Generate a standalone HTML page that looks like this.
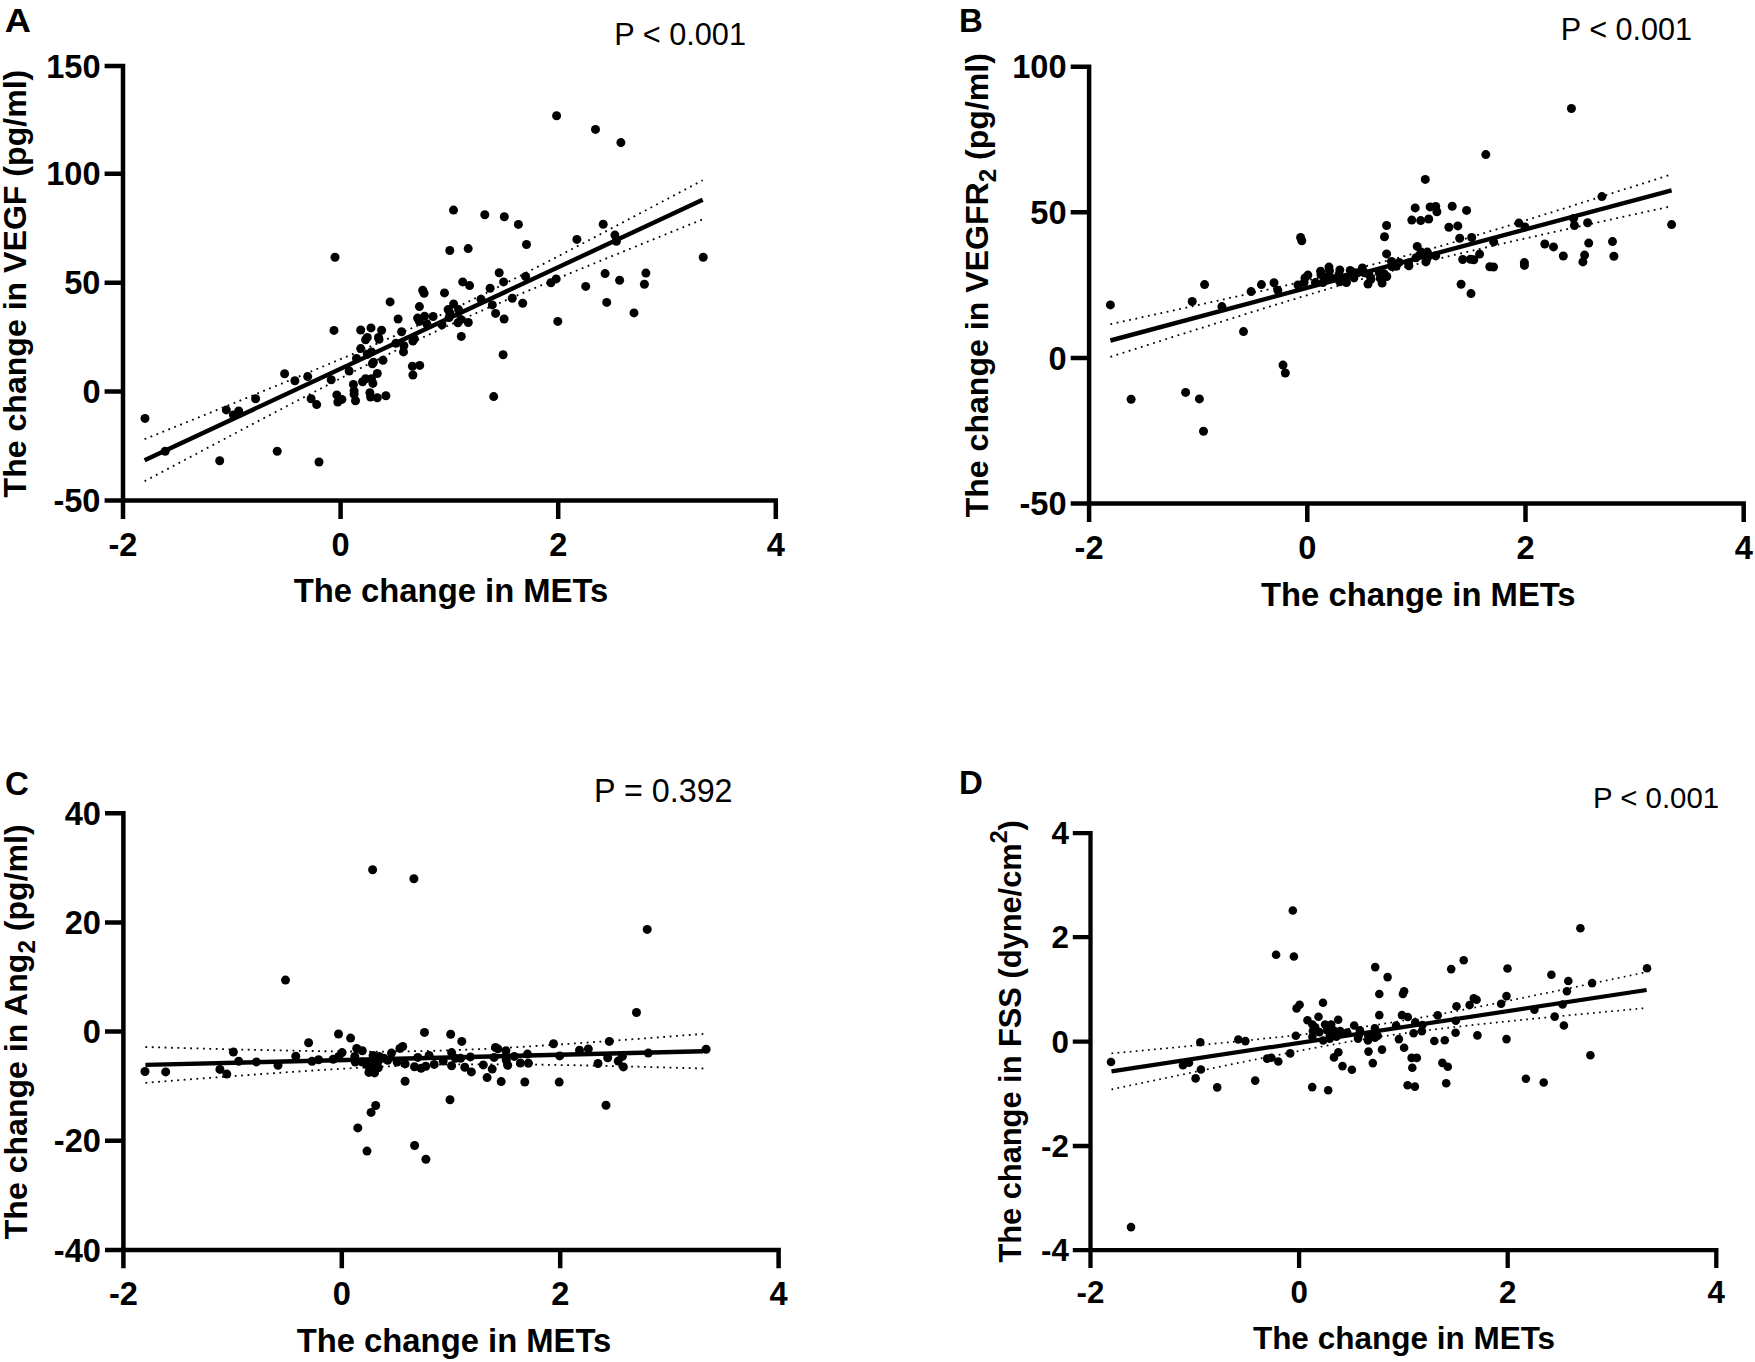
<!DOCTYPE html>
<html lang="en"><head><meta charset="utf-8"><title>Figure</title>
<style>
html,body{margin:0;padding:0;background:#fff;}
body{width:1755px;height:1362px;overflow:hidden;}
svg{display:block;}
text{font-family:"Liberation Sans", sans-serif;fill:#000;}
</style></head><body>
<svg width="1755" height="1362" viewBox="0 0 1755 1362">
<rect width="1755" height="1362" fill="#fff"/>
<g id="panelA">
<text x="4.7" y="32" font-size="33" font-weight="700" textLength="26.2" lengthAdjust="spacingAndGlyphs">A</text>
<path d="M123 63.8V518.9M104.6 500.5H778M340.6 500.5V518.9M558.2 500.5V518.9M775.8 500.5V518.9M104.6 391.6H123M104.6 282.7H123M104.6 173.8H123M104.6 66.1H123" fill="none" stroke="#000" stroke-width="4.5"/>
<text x="123" y="555.5" font-size="32.6" font-weight="700" text-anchor="middle">-2</text>
<text x="340.6" y="555.5" font-size="32.6" font-weight="700" text-anchor="middle">0</text>
<text x="558.2" y="555.5" font-size="32.6" font-weight="700" text-anchor="middle">2</text>
<text x="775.8" y="555.5" font-size="32.6" font-weight="700" text-anchor="middle">4</text>
<text x="100.5" y="512.1" font-size="32.6" font-weight="700" text-anchor="end">-50</text>
<text x="100.5" y="403.2" font-size="32.6" font-weight="700" text-anchor="end">0</text>
<text x="100.5" y="294.3" font-size="32.6" font-weight="700" text-anchor="end">50</text>
<text x="100.5" y="185.4" font-size="32.6" font-weight="700" text-anchor="end">100</text>
<text x="100.5" y="77.7" font-size="32.6" font-weight="700" text-anchor="end">150</text>
<text x="451" y="601.7" font-size="32.8" font-weight="700" text-anchor="middle">The change in METs</text>
<text transform="translate(26 283.6) rotate(-90)" font-size="32.1" font-weight="700" text-anchor="middle">The change in VEGF (pg/ml)</text>
<text x="614.3" y="45.2" font-size="30.7">P &lt; 0.001</text>
<polyline points="144.6,439.2 153.9,435.4 163.2,431.7 172.5,427.9 181.8,424.2 191.1,420.4 200.4,416.7 209.7,412.9 219,409.1 228.3,405.4 237.6,401.6 246.9,397.8 256.2,394 265.5,390.2 274.8,386.4 284.1,382.6 293.4,378.8 302.7,374.9 312,371.1 321.3,367.2 330.6,363.3 339.9,359.4 349.2,355.5 358.5,351.6 367.8,347.6 377.1,343.6 386.4,339.5 395.7,335.4 405,331.3 414.3,327.1 423.6,322.9 433,318.6 442.3,314.2 451.6,309.8 460.9,305.3 470.2,300.8 479.5,296.2 488.8,291.6 498.1,287 507.4,282.3 516.7,277.6 526,272.8 535.3,268.1 544.6,263.3 553.9,258.5 563.2,253.6 572.5,248.8 581.8,243.9 591.1,239.1 600.4,234.2 609.7,229.3 619,224.4 628.3,219.5 637.6,214.6 646.9,209.7 656.2,204.8 665.5,199.9 674.8,195 684.1,190.1 693.4,185.1 702.7,180.2" fill="none" stroke="#000" stroke-width="1.8" stroke-dasharray="1.8 4.6"/>
<polyline points="144.6,481.2 153.9,476.3 163.2,471.4 172.5,466.4 181.8,461.5 191.1,456.6 200.4,451.7 209.7,446.7 219,441.8 228.3,436.9 237.6,432 246.9,427.1 256.2,422.2 265.5,417.3 274.8,412.5 284.1,407.6 293.4,402.7 302.7,397.9 312,393.1 321.3,388.3 330.6,383.5 339.9,378.7 349.2,373.9 358.5,369.2 367.8,364.5 377.1,359.8 386.4,355.2 395.7,350.6 405,346.1 414.3,341.6 423.6,337.1 433,332.8 442.3,328.4 451.6,324.2 460.9,320 470.2,315.8 479.5,311.7 488.8,307.6 498.1,303.6 507.4,299.6 516.7,295.6 526,291.7 535.3,287.8 544.6,283.9 553.9,280 563.2,276.2 572.5,272.3 581.8,268.5 591.1,264.7 600.4,260.9 609.7,257.1 619,253.3 628.3,249.5 637.6,245.7 646.9,241.9 656.2,238.2 665.5,234.4 674.8,230.6 684.1,226.9 693.4,223.1 702.7,219.4" fill="none" stroke="#000" stroke-width="1.8" stroke-dasharray="1.8 4.6"/>
<line x1="144.6" y1="460.2" x2="702.7" y2="199.8" stroke="#000" stroke-width="4.4"/>
<g fill="#000"><circle cx="145" cy="418.4" r="4.5"/><circle cx="165.2" cy="451.3" r="4.5"/><circle cx="219.7" cy="460.7" r="4.5"/><circle cx="277.2" cy="451.3" r="4.5"/><circle cx="319" cy="462" r="4.5"/><circle cx="226.3" cy="409.9" r="4.5"/><circle cx="238.7" cy="410.9" r="4.5"/><circle cx="233.4" cy="415" r="4.5"/><circle cx="255.6" cy="398.8" r="4.5"/><circle cx="284.6" cy="373.8" r="4.5"/><circle cx="294.9" cy="380.8" r="4.5"/><circle cx="307.7" cy="376.6" r="4.5"/><circle cx="331.2" cy="379.8" r="4.5"/><circle cx="311.1" cy="398.8" r="4.5"/><circle cx="316.7" cy="404.6" r="4.5"/><circle cx="336.8" cy="394.9" r="4.5"/><circle cx="337.8" cy="402" r="4.5"/><circle cx="335" cy="257.3" r="4.5"/><circle cx="334" cy="330.4" r="4.5"/><circle cx="390.1" cy="301.9" r="4.5"/><circle cx="422.7" cy="290.2" r="4.5"/><circle cx="424.1" cy="293.2" r="4.5"/><circle cx="444.5" cy="292.9" r="4.5"/><circle cx="462.7" cy="281.9" r="4.5"/><circle cx="469.6" cy="285.6" r="4.5"/><circle cx="490.1" cy="288.3" r="4.5"/><circle cx="503.6" cy="281.9" r="4.5"/><circle cx="419.4" cy="306.6" r="4.5"/><circle cx="453.6" cy="304" r="4.5"/><circle cx="448.1" cy="309.6" r="4.5"/><circle cx="458.5" cy="309.6" r="4.5"/><circle cx="450" cy="313.4" r="4.5"/><circle cx="481" cy="299.3" r="4.5"/><circle cx="492.3" cy="304.9" r="4.5"/><circle cx="495.6" cy="313.4" r="4.5"/><circle cx="504.1" cy="319" r="4.5"/><circle cx="398.1" cy="319" r="4.5"/><circle cx="417.6" cy="318.1" r="4.5"/><circle cx="424.6" cy="316.2" r="4.5"/><circle cx="419.4" cy="321.4" r="4.5"/><circle cx="433.1" cy="316.5" r="4.5"/><circle cx="427" cy="324.2" r="4.5"/><circle cx="442" cy="324.7" r="4.5"/><circle cx="449.1" cy="317.6" r="4.5"/><circle cx="460.8" cy="319.5" r="4.5"/><circle cx="458" cy="322.8" r="4.5"/><circle cx="468.3" cy="322.5" r="4.5"/><circle cx="461.3" cy="336.4" r="4.5"/><circle cx="360.7" cy="330" r="4.5"/><circle cx="371" cy="327.9" r="4.5"/><circle cx="381.6" cy="330.3" r="4.5"/><circle cx="401.6" cy="331.7" r="4.5"/><circle cx="367.3" cy="337.4" r="4.5"/><circle cx="365.6" cy="339.7" r="4.5"/><circle cx="378.5" cy="337.4" r="4.5"/><circle cx="379" cy="339.2" r="4.5"/><circle cx="395.9" cy="343.2" r="4.5"/><circle cx="414.3" cy="338.8" r="4.5"/><circle cx="412.9" cy="341.1" r="4.5"/><circle cx="403.9" cy="345.8" r="4.5"/><circle cx="403.5" cy="351.9" r="4.5"/><circle cx="360.7" cy="348.6" r="4.5"/><circle cx="371.5" cy="351.9" r="4.5"/><circle cx="367.3" cy="354.3" r="4.5"/><circle cx="356.5" cy="358.5" r="4.5"/><circle cx="373.4" cy="362.3" r="4.5"/><circle cx="372.4" cy="363.7" r="4.5"/><circle cx="383" cy="360.2" r="4.5"/><circle cx="412.4" cy="366.3" r="4.5"/><circle cx="419.7" cy="365.4" r="4.5"/><circle cx="412.9" cy="375" r="4.5"/><circle cx="349.2" cy="371" r="4.5"/><circle cx="377.3" cy="373.5" r="4.5"/><circle cx="365.6" cy="378.7" r="4.5"/><circle cx="362.6" cy="381.7" r="4.5"/><circle cx="371.5" cy="378.7" r="4.5"/><circle cx="372.9" cy="383.4" r="4.5"/><circle cx="353.4" cy="384.4" r="4.5"/><circle cx="354.1" cy="390.9" r="4.5"/><circle cx="354.1" cy="394.2" r="4.5"/><circle cx="355.5" cy="400.8" r="4.5"/><circle cx="369.9" cy="392.8" r="4.5"/><circle cx="370.6" cy="397.1" r="4.5"/><circle cx="377.3" cy="397.8" r="4.5"/><circle cx="385.9" cy="395.8" r="4.5"/><circle cx="341.9" cy="399.4" r="4.5"/><circle cx="493.7" cy="396.6" r="4.5"/><circle cx="503.1" cy="354.7" r="4.5"/><circle cx="512.3" cy="298.3" r="4.5"/><circle cx="522.7" cy="303.3" r="4.5"/><circle cx="557.8" cy="321.4" r="4.5"/><circle cx="585.7" cy="286.4" r="4.5"/><circle cx="606.7" cy="302.4" r="4.5"/><circle cx="634" cy="312.9" r="4.5"/><circle cx="644.4" cy="284.2" r="4.5"/><circle cx="556.6" cy="115.7" r="4.5"/><circle cx="595.5" cy="129.4" r="4.5"/><circle cx="620.9" cy="142.6" r="4.5"/><circle cx="453.5" cy="210.1" r="4.5"/><circle cx="484.8" cy="214.8" r="4.5"/><circle cx="504.3" cy="216.7" r="4.5"/><circle cx="518.4" cy="224.4" r="4.5"/><circle cx="449.8" cy="250.5" r="4.5"/><circle cx="468.2" cy="248.6" r="4.5"/><circle cx="526.5" cy="244.5" r="4.5"/><circle cx="576.9" cy="239.4" r="4.5"/><circle cx="603.2" cy="224.2" r="4.5"/><circle cx="614.9" cy="235.1" r="4.5"/><circle cx="616.4" cy="241.3" r="4.5"/><circle cx="703.2" cy="257.3" r="4.5"/><circle cx="499.2" cy="272.7" r="4.5"/><circle cx="525.6" cy="276.5" r="4.5"/><circle cx="605.1" cy="273.6" r="4.5"/><circle cx="645.9" cy="273.1" r="4.5"/><circle cx="556.2" cy="278.9" r="4.5"/><circle cx="619.6" cy="280.2" r="4.5"/><circle cx="550.9" cy="282.7" r="4.5"/></g>
</g>
<g id="panelB">
<text x="959" y="32" font-size="33" font-weight="700">B</text>
<path d="M1089.1 64.5V521.9M1070.7 503.5H1745.9M1307.3 503.5V521.9M1525.5 503.5V521.9M1743.7 503.5V521.9M1070.7 357.9H1089.1M1070.7 212.3H1089.1M1070.7 66.7H1089.1" fill="none" stroke="#000" stroke-width="4.5"/>
<text x="1089.1" y="558.5" font-size="32.6" font-weight="700" text-anchor="middle">-2</text>
<text x="1307.3" y="558.5" font-size="32.6" font-weight="700" text-anchor="middle">0</text>
<text x="1525.5" y="558.5" font-size="32.6" font-weight="700" text-anchor="middle">2</text>
<text x="1743.7" y="558.5" font-size="32.6" font-weight="700" text-anchor="middle">4</text>
<text x="1066.6" y="515.1" font-size="32.6" font-weight="700" text-anchor="end">-50</text>
<text x="1066.6" y="369.5" font-size="32.6" font-weight="700" text-anchor="end">0</text>
<text x="1066.6" y="223.9" font-size="32.6" font-weight="700" text-anchor="end">50</text>
<text x="1066.6" y="78.3" font-size="32.6" font-weight="700" text-anchor="end">100</text>
<text x="1418.3" y="606.4" font-size="32.8" font-weight="700" text-anchor="middle">The change in METs</text>
<text transform="translate(988 285.2) rotate(-90)" font-size="32.1" font-weight="700" text-anchor="middle">The change in VEGFR<tspan dy="8.2" font-size="24.1">2</tspan><tspan dy="-8.2"> </tspan>(pg/ml)</text>
<text x="1560.8" y="39.6" font-size="30.6">P &lt; 0.001</text>
<polyline points="1110.4,324.2 1119.8,322.1 1129.1,320.1 1138.5,318.1 1147.8,316 1157.2,314 1166.5,312 1175.9,309.9 1185.2,307.9 1194.6,305.8 1203.9,303.7 1213.3,301.7 1222.6,299.6 1232,297.5 1241.3,295.5 1250.7,293.4 1260.1,291.3 1269.4,289.2 1278.8,287 1288.1,284.9 1297.5,282.8 1306.8,280.6 1316.2,278.4 1325.5,276.2 1334.9,274 1344.2,271.7 1353.6,269.4 1362.9,267 1372.3,264.7 1381.6,262.3 1391,259.8 1400.4,257.3 1409.7,254.7 1419.1,252.1 1428.4,249.5 1437.8,246.8 1447.1,244.1 1456.5,241.4 1465.8,238.6 1475.2,235.8 1484.5,233 1493.9,230.1 1503.2,227.3 1512.6,224.4 1521.9,221.5 1531.3,218.6 1540.7,215.7 1550,212.8 1559.4,209.9 1568.7,206.9 1578.1,204 1587.4,201 1596.8,198.1 1606.1,195.1 1615.5,192.2 1624.8,189.2 1634.2,186.3 1643.5,183.3 1652.9,180.3 1662.2,177.3 1671.6,174.4" fill="none" stroke="#000" stroke-width="1.8" stroke-dasharray="1.8 4.6"/>
<polyline points="1110.4,356.8 1119.8,353.9 1129.1,350.9 1138.5,347.9 1147.8,344.9 1157.2,342 1166.5,339 1175.9,336 1185.2,333.1 1194.6,330.1 1203.9,327.2 1213.3,324.2 1222.6,321.3 1232,318.4 1241.3,315.5 1250.7,312.5 1260.1,309.6 1269.4,306.7 1278.8,303.8 1288.1,301 1297.5,298.1 1306.8,295.3 1316.2,292.5 1325.5,289.7 1334.9,286.9 1344.2,284.1 1353.6,281.4 1362.9,278.8 1372.3,276.1 1381.6,273.5 1391,271 1400.4,268.5 1409.7,266 1419.1,263.6 1428.4,261.3 1437.8,258.9 1447.1,256.6 1456.5,254.4 1465.8,252.2 1475.2,249.9 1484.5,247.8 1493.9,245.6 1503.2,243.4 1512.6,241.3 1521.9,239.2 1531.3,237.1 1540.7,235 1550,232.9 1559.4,230.8 1568.7,228.7 1578.1,226.7 1587.4,224.6 1596.8,222.6 1606.1,220.5 1615.5,218.5 1624.8,216.4 1634.2,214.4 1643.5,212.3 1652.9,210.3 1662.2,208.3 1671.6,206.2" fill="none" stroke="#000" stroke-width="1.8" stroke-dasharray="1.8 4.6"/>
<line x1="1110.4" y1="340.5" x2="1671.6" y2="190.3" stroke="#000" stroke-width="4.4"/>
<g fill="#000"><circle cx="1110.4" cy="304.9" r="4.5"/><circle cx="1131.1" cy="399.3" r="4.5"/><circle cx="1185.6" cy="392.4" r="4.5"/><circle cx="1199.4" cy="398.9" r="4.5"/><circle cx="1203.5" cy="431.3" r="4.5"/><circle cx="1192.2" cy="301.5" r="4.5"/><circle cx="1204.6" cy="284.6" r="4.5"/><circle cx="1221.9" cy="306.6" r="4.5"/><circle cx="1243.5" cy="331.6" r="4.5"/><circle cx="1251.1" cy="291.6" r="4.5"/><circle cx="1261.4" cy="284.6" r="4.5"/><circle cx="1274" cy="282.7" r="4.5"/><circle cx="1277.8" cy="290.3" r="4.5"/><circle cx="1283" cy="365.1" r="4.5"/><circle cx="1285.3" cy="373" r="4.5"/><circle cx="1300.6" cy="237.5" r="4.5"/><circle cx="1301.8" cy="240.8" r="4.5"/><circle cx="1386.6" cy="225.5" r="4.5"/><circle cx="1384.5" cy="236.7" r="4.5"/><circle cx="1386.6" cy="253.9" r="4.5"/><circle cx="1415.2" cy="207.9" r="4.5"/><circle cx="1411.8" cy="220.1" r="4.5"/><circle cx="1420.7" cy="220.6" r="4.5"/><circle cx="1428.7" cy="219" r="4.5"/><circle cx="1430.1" cy="206.9" r="4.5"/><circle cx="1435.7" cy="206.5" r="4.5"/><circle cx="1436.9" cy="211.8" r="4.5"/><circle cx="1452.2" cy="206.2" r="4.5"/><circle cx="1448.9" cy="227.3" r="4.5"/><circle cx="1417.2" cy="246.4" r="4.5"/><circle cx="1421.2" cy="252.1" r="4.5"/><circle cx="1427.3" cy="252.1" r="4.5"/><circle cx="1416" cy="257.7" r="4.5"/><circle cx="1424.4" cy="255.8" r="4.5"/><circle cx="1429.1" cy="255.8" r="4.5"/><circle cx="1435.7" cy="255.8" r="4.5"/><circle cx="1425.9" cy="261.9" r="4.5"/><circle cx="1408.5" cy="262.9" r="4.5"/><circle cx="1408.9" cy="265.7" r="4.5"/><circle cx="1391.5" cy="261.5" r="4.5"/><circle cx="1399.1" cy="262.4" r="4.5"/><circle cx="1392" cy="266.6" r="4.5"/><circle cx="1396.2" cy="266.2" r="4.5"/><circle cx="1298" cy="285" r="4.5"/><circle cx="1305" cy="277.9" r="4.5"/><circle cx="1307.9" cy="275.1" r="4.5"/><circle cx="1304.1" cy="282.6" r="4.5"/><circle cx="1315.4" cy="282.6" r="4.5"/><circle cx="1320.6" cy="271.3" r="4.5"/><circle cx="1321" cy="274.6" r="4.5"/><circle cx="1329" cy="267.1" r="4.5"/><circle cx="1329.5" cy="270.9" r="4.5"/><circle cx="1325.7" cy="277.4" r="4.5"/><circle cx="1322.9" cy="282.6" r="4.5"/><circle cx="1332.3" cy="278.4" r="4.5"/><circle cx="1339.8" cy="269.9" r="4.5"/><circle cx="1338.9" cy="274.6" r="4.5"/><circle cx="1339.8" cy="281.7" r="4.5"/><circle cx="1346.4" cy="282.6" r="4.5"/><circle cx="1345.5" cy="277.4" r="4.5"/><circle cx="1350.2" cy="270.4" r="4.5"/><circle cx="1351.1" cy="275.1" r="4.5"/><circle cx="1353.9" cy="277.9" r="4.5"/><circle cx="1357.7" cy="272.7" r="4.5"/><circle cx="1362.4" cy="268" r="4.5"/><circle cx="1364.3" cy="272.7" r="4.5"/><circle cx="1369" cy="274.6" r="4.5"/><circle cx="1370.9" cy="279.3" r="4.5"/><circle cx="1368" cy="284" r="4.5"/><circle cx="1379.3" cy="272.7" r="4.5"/><circle cx="1380.3" cy="278.4" r="4.5"/><circle cx="1386.8" cy="276.5" r="4.5"/><circle cx="1382.1" cy="283.1" r="4.5"/><circle cx="1384" cy="273.7" r="4.5"/><circle cx="1466.6" cy="210.4" r="4.5"/><circle cx="1457.8" cy="225.9" r="4.5"/><circle cx="1459.7" cy="238.2" r="4.5"/><circle cx="1471.7" cy="237.5" r="4.5"/><circle cx="1493.7" cy="241.9" r="4.5"/><circle cx="1518.9" cy="223.1" r="4.5"/><circle cx="1525" cy="226.9" r="4.5"/><circle cx="1573.6" cy="218.4" r="4.5"/><circle cx="1574.4" cy="225.5" r="4.5"/><circle cx="1587.6" cy="222.8" r="4.5"/><circle cx="1601.9" cy="196.6" r="4.5"/><circle cx="1544.8" cy="244" r="4.5"/><circle cx="1553.5" cy="246.9" r="4.5"/><circle cx="1563.3" cy="256" r="4.5"/><circle cx="1588.7" cy="243.1" r="4.5"/><circle cx="1584.6" cy="255.1" r="4.5"/><circle cx="1582.9" cy="261.9" r="4.5"/><circle cx="1612.5" cy="241.6" r="4.5"/><circle cx="1613.9" cy="256.3" r="4.5"/><circle cx="1479.6" cy="254.1" r="4.5"/><circle cx="1462.7" cy="259.5" r="4.5"/><circle cx="1470.5" cy="259.3" r="4.5"/><circle cx="1473.8" cy="259.8" r="4.5"/><circle cx="1489.8" cy="266.8" r="4.5"/><circle cx="1493.5" cy="267" r="4.5"/><circle cx="1524.4" cy="262.6" r="4.5"/><circle cx="1524.4" cy="265.4" r="4.5"/><circle cx="1461.1" cy="284.2" r="4.5"/><circle cx="1471" cy="293.6" r="4.5"/><circle cx="1571.4" cy="108.5" r="4.5"/><circle cx="1485.8" cy="154.6" r="4.5"/><circle cx="1425.3" cy="179.4" r="4.5"/><circle cx="1671.6" cy="224.6" r="4.5"/></g>
</g>
<g id="panelC">
<text x="5" y="794.5" font-size="33" font-weight="700">C</text>
<path d="M123.4 811V1268.3M105 1249.9H780.9M341.8 1249.9V1268.3M560.2 1249.9V1268.3M778.6 1249.9V1268.3M105 1140.7H123.4M105 1031.5H123.4M105 922.4H123.4M105 813.2H123.4" fill="none" stroke="#000" stroke-width="4.5"/>
<text x="123.4" y="1304.9" font-size="32.6" font-weight="700" text-anchor="middle">-2</text>
<text x="341.8" y="1304.9" font-size="32.6" font-weight="700" text-anchor="middle">0</text>
<text x="560.2" y="1304.9" font-size="32.6" font-weight="700" text-anchor="middle">2</text>
<text x="778.6" y="1304.9" font-size="32.6" font-weight="700" text-anchor="middle">4</text>
<text x="100.9" y="1261.5" font-size="32.6" font-weight="700" text-anchor="end">-40</text>
<text x="100.9" y="1152.3" font-size="32.6" font-weight="700" text-anchor="end">-20</text>
<text x="100.9" y="1043.1" font-size="32.6" font-weight="700" text-anchor="end">0</text>
<text x="100.9" y="934" font-size="32.6" font-weight="700" text-anchor="end">20</text>
<text x="100.9" y="824.8" font-size="32.6" font-weight="700" text-anchor="end">40</text>
<text x="454" y="1351.6" font-size="32.8" font-weight="700" text-anchor="middle">The change in METs</text>
<text transform="translate(27.1 1031.8) rotate(-90)" font-size="32.1" font-weight="700" text-anchor="middle">The change in Ang<tspan dy="8.2" font-size="24.1">2</tspan><tspan dy="-8.2"> </tspan>(pg/ml)</text>
<text x="594" y="802" font-size="32.3">P = 0.392</text>
<polyline points="145.4,1047 154.7,1047.3 164,1047.5 173.3,1047.8 182.6,1048 191.9,1048.3 201.2,1048.5 210.5,1048.8 219.8,1049 229.1,1049.3 238.4,1049.5 247.7,1049.7 257,1049.9 266.3,1050.1 275.6,1050.3 284.9,1050.5 294.2,1050.7 303.5,1050.9 312.8,1051 322.1,1051.2 331.4,1051.3 340.7,1051.4 350,1051.5 359.3,1051.5 368.6,1051.6 377.9,1051.6 387.2,1051.5 396.5,1051.5 405.8,1051.4 415.1,1051.2 424.4,1051 433.6,1050.8 442.9,1050.6 452.2,1050.2 461.5,1049.9 470.8,1049.5 480.1,1049.1 489.4,1048.7 498.7,1048.2 508,1047.7 517.3,1047.1 526.6,1046.6 535.9,1046 545.2,1045.4 554.5,1044.8 563.8,1044.2 573.1,1043.5 582.4,1042.9 591.7,1042.2 601,1041.6 610.3,1040.9 619.6,1040.2 628.9,1039.5 638.2,1038.9 647.5,1038.2 656.8,1037.5 666.1,1036.8 675.4,1036 684.7,1035.3 694,1034.6 703.3,1033.9" fill="none" stroke="#000" stroke-width="1.8" stroke-dasharray="1.8 4.6"/>
<polyline points="145.4,1082.8 154.7,1082.1 164,1081.4 173.3,1080.6 182.6,1079.9 191.9,1079.2 201.2,1078.5 210.5,1077.8 219.8,1077.1 229.1,1076.4 238.4,1075.7 247.7,1075.1 257,1074.4 266.3,1073.7 275.6,1073.1 284.9,1072.4 294.2,1071.8 303.5,1071.2 312.8,1070.5 322.1,1069.9 331.4,1069.4 340.7,1068.8 350,1068.3 359.3,1067.8 368.6,1067.3 377.9,1066.8 387.2,1066.4 396.5,1066 405.8,1065.6 415.1,1065.3 424.4,1065.1 433.6,1064.8 442.9,1064.6 452.2,1064.5 461.5,1064.4 470.8,1064.3 480.1,1064.3 489.4,1064.3 498.7,1064.3 508,1064.3 517.3,1064.4 526.6,1064.5 535.9,1064.6 545.2,1064.8 554.5,1064.9 563.8,1065.1 573.1,1065.2 582.4,1065.4 591.7,1065.6 601,1065.8 610.3,1066.1 619.6,1066.3 628.9,1066.5 638.2,1066.7 647.5,1067 656.8,1067.2 666.1,1067.5 675.4,1067.7 684.7,1068 694,1068.2 703.3,1068.5" fill="none" stroke="#000" stroke-width="1.8" stroke-dasharray="1.8 4.6"/>
<line x1="145.4" y1="1064.9" x2="703.3" y2="1051.2" stroke="#000" stroke-width="4.4"/>
<g fill="#000"><circle cx="372.6" cy="869.7" r="4.5"/><circle cx="413.9" cy="878.8" r="4.5"/><circle cx="285.5" cy="980.1" r="4.5"/><circle cx="145" cy="1071.5" r="4.5"/><circle cx="165.7" cy="1071.9" r="4.5"/><circle cx="219.9" cy="1069.4" r="4.5"/><circle cx="226.8" cy="1074.1" r="4.5"/><circle cx="233.4" cy="1052.1" r="4.5"/><circle cx="238.7" cy="1061.2" r="4.5"/><circle cx="256.4" cy="1061.9" r="4.5"/><circle cx="278" cy="1065.3" r="4.5"/><circle cx="295.8" cy="1056.3" r="4.5"/><circle cx="308.6" cy="1042.7" r="4.5"/><circle cx="312" cy="1061.2" r="4.5"/><circle cx="318.6" cy="1059.7" r="4.5"/><circle cx="338.5" cy="1034" r="4.5"/><circle cx="350.6" cy="1038.1" r="4.5"/><circle cx="424.5" cy="1032.4" r="4.5"/><circle cx="450.7" cy="1034.3" r="4.5"/><circle cx="461.8" cy="1041.4" r="4.5"/><circle cx="405.1" cy="1081.3" r="4.5"/><circle cx="450" cy="1099.8" r="4.5"/><circle cx="375.7" cy="1105.5" r="4.5"/><circle cx="371.1" cy="1112.4" r="4.5"/><circle cx="357.8" cy="1127.9" r="4.5"/><circle cx="333.2" cy="1059.2" r="4.5"/><circle cx="342.1" cy="1052.6" r="4.5"/><circle cx="338.8" cy="1056.4" r="4.5"/><circle cx="356.7" cy="1048.4" r="4.5"/><circle cx="362.3" cy="1050.8" r="4.5"/><circle cx="354.8" cy="1056.4" r="4.5"/><circle cx="355.3" cy="1062.1" r="4.5"/><circle cx="362.3" cy="1062.1" r="4.5"/><circle cx="373.1" cy="1055.5" r="4.5"/><circle cx="379.2" cy="1056.4" r="4.5"/><circle cx="371.2" cy="1061.1" r="4.5"/><circle cx="378.3" cy="1061.1" r="4.5"/><circle cx="367" cy="1064.9" r="4.5"/><circle cx="372.6" cy="1067.7" r="4.5"/><circle cx="378.3" cy="1067.7" r="4.5"/><circle cx="368.9" cy="1072.4" r="4.5"/><circle cx="374.5" cy="1072.9" r="4.5"/><circle cx="383.9" cy="1058.3" r="4.5"/><circle cx="387.7" cy="1060.2" r="4.5"/><circle cx="391.5" cy="1053.1" r="4.5"/><circle cx="399.9" cy="1048.4" r="4.5"/><circle cx="402.7" cy="1046.5" r="4.5"/><circle cx="397.1" cy="1062.1" r="4.5"/><circle cx="405.1" cy="1063.9" r="4.5"/><circle cx="414.5" cy="1066.8" r="4.5"/><circle cx="421.1" cy="1068.2" r="4.5"/><circle cx="425.8" cy="1066.3" r="4.5"/><circle cx="417.8" cy="1057.4" r="4.5"/><circle cx="429.1" cy="1055.5" r="4.5"/><circle cx="434.2" cy="1064.4" r="4.5"/><circle cx="443.2" cy="1061.1" r="4.5"/><circle cx="451.6" cy="1052.6" r="4.5"/><circle cx="451.6" cy="1065.8" r="4.5"/><circle cx="455.4" cy="1058.3" r="4.5"/><circle cx="460.6" cy="1058.3" r="4.5"/><circle cx="464.8" cy="1067.2" r="4.5"/><circle cx="470.4" cy="1056.9" r="4.5"/><circle cx="471.4" cy="1071.9" r="4.5"/><circle cx="636.5" cy="1012.5" r="4.5"/><circle cx="553.5" cy="1043.7" r="4.5"/><circle cx="609.3" cy="1041.4" r="4.5"/><circle cx="495.5" cy="1047.5" r="4.5"/><circle cx="497.9" cy="1048.9" r="4.5"/><circle cx="505.9" cy="1050.8" r="4.5"/><circle cx="494.1" cy="1057.4" r="4.5"/><circle cx="505.9" cy="1056.4" r="4.5"/><circle cx="506.3" cy="1060.2" r="4.5"/><circle cx="507.7" cy="1065.3" r="4.5"/><circle cx="514.3" cy="1056.4" r="4.5"/><circle cx="520.4" cy="1063" r="4.5"/><circle cx="527.5" cy="1054.1" r="4.5"/><circle cx="528.4" cy="1063.2" r="4.5"/><circle cx="559.7" cy="1055.9" r="4.5"/><circle cx="579.5" cy="1050.3" r="4.5"/><circle cx="588.3" cy="1048.9" r="4.5"/><circle cx="598" cy="1063.5" r="4.5"/><circle cx="607.7" cy="1057.8" r="4.5"/><circle cx="618.2" cy="1061.1" r="4.5"/><circle cx="622.4" cy="1056.4" r="4.5"/><circle cx="623.4" cy="1066.9" r="4.5"/><circle cx="483.3" cy="1064.9" r="4.5"/><circle cx="492.2" cy="1069.1" r="4.5"/><circle cx="487.1" cy="1077.6" r="4.5"/><circle cx="501.2" cy="1081.6" r="4.5"/><circle cx="524.8" cy="1082" r="4.5"/><circle cx="559.2" cy="1082.1" r="4.5"/><circle cx="606" cy="1105.3" r="4.5"/><circle cx="647.2" cy="929.4" r="4.5"/><circle cx="706.1" cy="1049.3" r="4.5"/><circle cx="648.3" cy="1053.1" r="4.5"/><circle cx="367" cy="1151.1" r="4.5"/><circle cx="414.6" cy="1145.5" r="4.5"/><circle cx="425.9" cy="1159.2" r="4.5"/></g>
</g>
<g id="panelD">
<text x="959" y="794.4" font-size="33" font-weight="700">D</text>
<path d="M1090.5 830.9V1267.9M1072.8 1250.2H1718.5M1299.1 1250.2V1267.9M1507.7 1250.2V1267.9M1716.3 1250.2V1267.9M1072.8 1146H1090.5M1072.8 1041.6H1090.5M1072.8 937.2H1090.5M1072.8 833.1H1090.5" fill="none" stroke="#000" stroke-width="4.3"/>
<text x="1090.5" y="1303" font-size="31.3" font-weight="700" text-anchor="middle">-2</text>
<text x="1299.1" y="1303" font-size="31.3" font-weight="700" text-anchor="middle">0</text>
<text x="1507.7" y="1303" font-size="31.3" font-weight="700" text-anchor="middle">2</text>
<text x="1716.3" y="1303" font-size="31.3" font-weight="700" text-anchor="middle">4</text>
<text x="1068.9" y="1261.3" font-size="31.3" font-weight="700" text-anchor="end">-4</text>
<text x="1068.9" y="1157.1" font-size="31.3" font-weight="700" text-anchor="end">-2</text>
<text x="1068.9" y="1052.7" font-size="31.3" font-weight="700" text-anchor="end">0</text>
<text x="1068.9" y="948.3" font-size="31.3" font-weight="700" text-anchor="end">2</text>
<text x="1068.9" y="844.2" font-size="31.3" font-weight="700" text-anchor="end">4</text>
<text x="1404" y="1348.7" font-size="31.5" font-weight="700" text-anchor="middle">The change in METs</text>
<text transform="translate(1021.3 1041.4) rotate(-90)" font-size="30.8" font-weight="700" text-anchor="middle">The change in FSS (dyne/cm<tspan dy="-13.9" font-size="23.1">2</tspan><tspan dy="13.9">)</tspan></text>
<text x="1593" y="808" font-size="29.4">P &lt; 0.001</text>
<polyline points="1111.5,1053.4 1120.4,1052.6 1129.3,1051.8 1138.3,1050.9 1147.2,1050.1 1156.1,1049.2 1165,1048.4 1173.9,1047.6 1182.8,1046.7 1191.8,1045.8 1200.7,1045 1209.6,1044.1 1218.5,1043.2 1227.4,1042.4 1236.4,1041.5 1245.3,1040.6 1254.2,1039.7 1263.1,1038.7 1272,1037.8 1280.9,1036.9 1289.9,1035.9 1298.8,1034.9 1307.7,1033.9 1316.6,1032.9 1325.5,1031.8 1334.5,1030.7 1343.4,1029.5 1352.3,1028.3 1361.2,1027.1 1370.1,1025.8 1379,1024.5 1388,1023.1 1396.9,1021.7 1405.8,1020.2 1414.7,1018.7 1423.6,1017.1 1432.6,1015.5 1441.5,1013.9 1450.4,1012.2 1459.3,1010.5 1468.2,1008.8 1477.2,1007 1486.1,1005.3 1495,1003.5 1503.9,1001.7 1512.8,999.9 1521.7,998.1 1530.7,996.2 1539.6,994.4 1548.5,992.6 1557.4,990.7 1566.3,988.9 1575.3,987 1584.2,985.1 1593.1,983.3 1602,981.4 1610.9,979.5 1619.8,977.7 1628.8,975.8 1637.7,973.9 1646.6,972" fill="none" stroke="#000" stroke-width="1.7" stroke-dasharray="1.7 4.4"/>
<polyline points="1111.5,1089.4 1120.4,1087.5 1129.3,1085.6 1138.3,1083.7 1147.2,1081.9 1156.1,1080 1165,1078.1 1173.9,1076.3 1182.8,1074.4 1191.8,1072.5 1200.7,1070.7 1209.6,1068.8 1218.5,1067 1227.4,1065.2 1236.4,1063.3 1245.3,1061.5 1254.2,1059.7 1263.1,1057.9 1272,1056.1 1280.9,1054.4 1289.9,1052.6 1298.8,1050.9 1307.7,1049.2 1316.6,1047.5 1325.5,1045.9 1334.5,1044.3 1343.4,1042.7 1352.3,1041.2 1361.2,1039.7 1370.1,1038.3 1379,1036.9 1388,1035.6 1396.9,1034.3 1405.8,1033.1 1414.7,1031.9 1423.6,1030.7 1432.6,1029.6 1441.5,1028.6 1450.4,1027.5 1459.3,1026.5 1468.2,1025.5 1477.2,1024.5 1486.1,1023.6 1495,1022.7 1503.9,1021.7 1512.8,1020.8 1521.7,1019.9 1530.7,1019 1539.6,1018.2 1548.5,1017.3 1557.4,1016.4 1566.3,1015.6 1575.3,1014.7 1584.2,1013.9 1593.1,1013 1602,1012.2 1610.9,1011.3 1619.8,1010.5 1628.8,1009.6 1637.7,1008.8 1646.6,1008" fill="none" stroke="#000" stroke-width="1.7" stroke-dasharray="1.7 4.4"/>
<line x1="1111.5" y1="1071.4" x2="1646.6" y2="990" stroke="#000" stroke-width="4.2"/>
<g fill="#000"><circle cx="1111" cy="1062" r="4.3"/><circle cx="1183" cy="1065.2" r="4.3"/><circle cx="1189" cy="1062.8" r="4.3"/><circle cx="1200.3" cy="1042.3" r="4.3"/><circle cx="1200.9" cy="1069.5" r="4.3"/><circle cx="1195.6" cy="1078.4" r="4.3"/><circle cx="1217.2" cy="1087.4" r="4.3"/><circle cx="1238.3" cy="1039.5" r="4.3"/><circle cx="1245.4" cy="1041.1" r="4.3"/><circle cx="1255.2" cy="1080.6" r="4.3"/><circle cx="1267.1" cy="1058.6" r="4.3"/><circle cx="1271.4" cy="1057.7" r="4.3"/><circle cx="1278.3" cy="1061.5" r="4.3"/><circle cx="1290.2" cy="1053.4" r="4.3"/><circle cx="1295.8" cy="1035.7" r="4.3"/><circle cx="1292.8" cy="910.5" r="4.3"/><circle cx="1276.1" cy="954.8" r="4.3"/><circle cx="1293.9" cy="956.5" r="4.3"/><circle cx="1296.6" cy="1008.4" r="4.3"/><circle cx="1299.6" cy="1004.7" r="4.3"/><circle cx="1375.2" cy="967.1" r="4.3"/><circle cx="1323" cy="1002.7" r="4.3"/><circle cx="1387.6" cy="977.1" r="4.3"/><circle cx="1379.3" cy="994" r="4.3"/><circle cx="1404.1" cy="991.2" r="4.3"/><circle cx="1402.9" cy="994" r="4.3"/><circle cx="1379.3" cy="1015.1" r="4.3"/><circle cx="1456.5" cy="1006.2" r="4.3"/><circle cx="1402" cy="1015.1" r="4.3"/><circle cx="1407.8" cy="1017" r="4.3"/><circle cx="1437.7" cy="1015.4" r="4.3"/><circle cx="1415.3" cy="1022.2" r="4.3"/><circle cx="1422.4" cy="1025" r="4.3"/><circle cx="1421.9" cy="1031.1" r="4.3"/><circle cx="1413.6" cy="1033.2" r="4.3"/><circle cx="1396.1" cy="1025.5" r="4.3"/><circle cx="1398.9" cy="1039.1" r="4.3"/><circle cx="1404.1" cy="1047.8" r="4.3"/><circle cx="1455.6" cy="1032.8" r="4.3"/><circle cx="1455.8" cy="1020.8" r="4.3"/><circle cx="1434.3" cy="1041" r="4.3"/><circle cx="1444.8" cy="1040.3" r="4.3"/><circle cx="1411.6" cy="1057.9" r="4.3"/><circle cx="1416.8" cy="1057.9" r="4.3"/><circle cx="1412.3" cy="1067.8" r="4.3"/><circle cx="1442.4" cy="1062.9" r="4.3"/><circle cx="1447.8" cy="1066.8" r="4.3"/><circle cx="1446.2" cy="1083.3" r="4.3"/><circle cx="1407.6" cy="1085.2" r="4.3"/><circle cx="1414.9" cy="1086.6" r="4.3"/><circle cx="1312.2" cy="1087.1" r="4.3"/><circle cx="1328.2" cy="1090.3" r="4.3"/><circle cx="1334" cy="1057.4" r="4.3"/><circle cx="1338.4" cy="1052.3" r="4.3"/><circle cx="1342.5" cy="1066.1" r="4.3"/><circle cx="1351.9" cy="1069.7" r="4.3"/><circle cx="1368.5" cy="1051.6" r="4.3"/><circle cx="1382" cy="1049.6" r="4.3"/><circle cx="1372.8" cy="1063.1" r="4.3"/><circle cx="1307.5" cy="1020.3" r="4.3"/><circle cx="1318.5" cy="1016.7" r="4.3"/><circle cx="1312.4" cy="1024.5" r="4.3"/><circle cx="1315.2" cy="1027.4" r="4.3"/><circle cx="1312.9" cy="1031.1" r="4.3"/><circle cx="1312.4" cy="1036.8" r="4.3"/><circle cx="1325.1" cy="1024.5" r="4.3"/><circle cx="1331.2" cy="1024.5" r="4.3"/><circle cx="1338.2" cy="1019.8" r="4.3"/><circle cx="1327" cy="1030.2" r="4.3"/><circle cx="1333.5" cy="1030.2" r="4.3"/><circle cx="1340.1" cy="1031.1" r="4.3"/><circle cx="1329.8" cy="1035.8" r="4.3"/><circle cx="1336.4" cy="1036.8" r="4.3"/><circle cx="1323.2" cy="1040.5" r="4.3"/><circle cx="1329.8" cy="1038.6" r="4.3"/><circle cx="1347.2" cy="1032.5" r="4.3"/><circle cx="1354.2" cy="1025.5" r="4.3"/><circle cx="1359.9" cy="1030.2" r="4.3"/><circle cx="1358.9" cy="1034.9" r="4.3"/><circle cx="1358" cy="1038.6" r="4.3"/><circle cx="1368.3" cy="1035.8" r="4.3"/><circle cx="1367.9" cy="1040.5" r="4.3"/><circle cx="1374.9" cy="1028.3" r="4.3"/><circle cx="1375.9" cy="1033.9" r="4.3"/><circle cx="1377.7" cy="1035.8" r="4.3"/><circle cx="1374.9" cy="1037.7" r="4.3"/><circle cx="1319.4" cy="1032.1" r="4.3"/><circle cx="1463.7" cy="960.3" r="4.3"/><circle cx="1507.5" cy="968.5" r="4.3"/><circle cx="1551.4" cy="974.7" r="4.3"/><circle cx="1568.3" cy="981" r="4.3"/><circle cx="1592.1" cy="983.1" r="4.3"/><circle cx="1566.9" cy="991.2" r="4.3"/><circle cx="1506.5" cy="996.1" r="4.3"/><circle cx="1473.8" cy="998.4" r="4.3"/><circle cx="1476.6" cy="999.8" r="4.3"/><circle cx="1469.6" cy="1005" r="4.3"/><circle cx="1501.1" cy="1003.8" r="4.3"/><circle cx="1534.4" cy="1009.7" r="4.3"/><circle cx="1562.6" cy="1004.5" r="4.3"/><circle cx="1554.7" cy="1016.6" r="4.3"/><circle cx="1563.9" cy="1025.5" r="4.3"/><circle cx="1477.4" cy="1035.4" r="4.3"/><circle cx="1506.5" cy="1039.1" r="4.3"/><circle cx="1590.4" cy="1055.3" r="4.3"/><circle cx="1580.4" cy="928.3" r="4.3"/><circle cx="1647" cy="968.3" r="4.3"/><circle cx="1451.2" cy="969.1" r="4.3"/><circle cx="1525.9" cy="1078.7" r="4.3"/><circle cx="1543.7" cy="1082.5" r="4.3"/><circle cx="1131" cy="1227.1" r="4.3"/></g>
</g>
</svg>
</body></html>
